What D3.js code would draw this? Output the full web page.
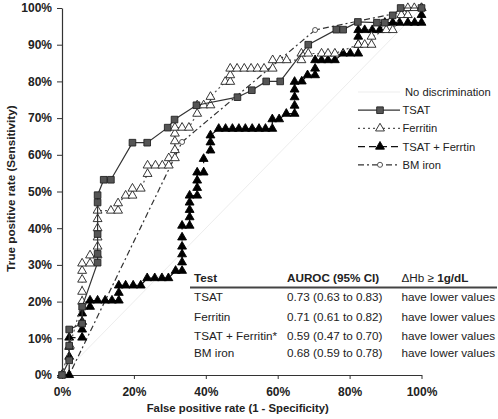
<!DOCTYPE html>
<html>
<head>
<meta charset="utf-8">
<script src="https://cdn.jsdelivr.net/npm/d3@7"></script>
<style>
	body { margin: 0; background: #fff; }
	text { font-family: Arial, "Liberation Sans", sans-serif; fill: #222; }
</style>
</head>
<body>
<svg id="chart" width="498" height="419"></svg>
<script>
// ROC points as [false positive %, true positive %]
var tsat = [[0,0],[2,4],[2,8],[2,12.4],[5.6,14],[5.6,18.6],[9.9,30.6],[9.9,33],[9.9,38.4],[9.9,47],[9.9,49],
	[11.6,53.2],[13.6,53.2],[19.6,63.3],[23.7,63.3],[29.4,67.4],[31.3,69.6],[37.4,73.5],[48.8,75.7],
	[52.8,77.6],[56.8,80],[60.7,80],[68.5,90],[76.3,94.1],[78.2,94.1],[82.3,96.2],[87.6,96],[89.8,96],
	[92,98],[94.2,100],[100,100]];

var ferritin = [[0,0],[2.2,8],[5.6,20],[5.6,22.7],[5.6,26],[5.6,28.4],[5.6,30.4],[7.8,30.4],[7.8,32.6],
	[9.9,32.6],[9.9,35],[9.9,37.5],[9.9,40],[9.9,42.5],[9.9,44.8],[13.6,44.8],[15.6,44.8],[15.6,46.8],
	[17.7,48.9],[19.6,48.9],[19.6,50.8],[21.9,50.8],[23.8,54.8],[23.8,57.1],[26,57.1],[27.9,57.1],
	[29.7,57.1],[29.7,59.1],[31.4,59.1],[31.4,61.3],[31.4,63.7],[31.4,65.8],[31.4,67.4],[33.4,67.4],
	[35.3,67.4],[37.6,71.2],[37.6,73.5],[39.4,73.5],[41.3,73.5],[41.3,75.8],[45.4,79.9],[46.8,79.9],
	[46.8,81.7],[46.8,83.5],[48.7,83.5],[50.7,83.5],[52.6,83.5],[54.4,83.5],[56.2,83.5],[58.6,83.5],
	[58.6,85.8],[60.7,85.8],[62.5,85.8],[66.6,85.8],[66.6,87.6],[68.5,87.6],[72.2,87.6],[74,87.6],
	[75.9,87.6],[82.4,90],[84.2,90],[86.1,90],[86.1,92.2],[90.2,94],[92,94],[94.4,98.1],[96.2,98.1],
	[96.2,100],[98,100],[100,100]];

var tsatFerritin = [[0,0],[2,0],[2,5],[2,7.7],[2,10.2],[5.6,10.2],[5.6,12.4],[5.6,14.5],[5.6,16.8],
	[7.8,18.6],[7.8,20.3],[9.9,20.3],[12,20.3],[13.9,20.3],[15.8,20.3],[15.8,22.4],[15.8,24.4],
	[17.7,24.4],[19.8,24.4],[21.9,24.4],[23.7,26.4],[25.8,26.4],[27.8,26.4],[29.6,26.4],[31.6,28.4],
	[33.4,28.4],[33.4,30.7],[33.4,32.9],[33.4,35],[33.4,37.5],[33.4,40.7],[35.5,40.7],[35.5,43],
	[35.5,45],[35.5,47],[35.5,48.9],[37.6,48.9],[37.6,51],[37.6,53],[37.6,55.2],[39.4,55.2],
	[39.4,58.9],[41.3,61.2],[41.3,63.4],[41.3,65.3],[43.6,67.1],[45.5,67.1],[47.4,67.1],[49.2,67.1],
	[51,67.1],[52.9,67.1],[54.8,67.1],[56.6,67.1],[58.5,67.1],[58.5,69.7],[60.4,69.7],[62.4,71.2],
	[64.7,71.2],[64.7,73.4],[64.7,75.7],[64.7,77.8],[64.7,79.9],[66.7,80],[68.3,81.7],[70.4,81.7],
	[70.4,83.5],[70.4,85.8],[72.2,85.8],[74,85.8],[75.9,85.8],[78.2,87.6],[80.2,87.6],[82.4,87.6],
	[82.4,90],[82.4,92.2],[82.4,94],[84.2,94],[86.3,94],[88.4,94],[89.8,96],[92,96],[93.9,96],
	[96.2,96],[98.1,96],[100,96],[100,98.1],[100,100]];

var bmIron = [[0,0],[2,0],[33.4,63.5],[70.4,94],[90.2,98],[100,100]];
var noDiscrimination = [[0,0],[100,100]];

var xTicks = [0, 20, 40, 60, 80, 100];
var yTicks = [0, 10, 20, 30, 40, 50, 60, 70, 80, 90, 100];

var tableHeader = ["Test", "AUROC (95% CI)"];
var tableTests = ["TSAT", "Ferritin", "TSAT + Ferritin*", "BM iron"];
var tableAuroc = ["0.73 (0.63 to 0.83)", "0.71 (0.61 to 0.82)", "0.59 (0.47 to 0.70)", "0.68 (0.59 to 0.78)"];
var tableNote = ["have lower values", "have lower values", "have lower values", "have lower values"];

var svg = d3.select("#chart");

var x = d3.scaleLinear().domain([0, 100]).range([62, 421.5]);
var y = d3.scaleLinear().domain([0, 100]).range([375, 8]);

var pct = function(d) { return d + "%"; };

var tri = d3.symbol().type(d3.symbolTriangle).size(34);
var sq = d3.symbol().type(d3.symbolSquare).size(44);
var circ = d3.symbol().type(d3.symbolCircle).size(20);

// drawing order matters: later series sit on top
var series = [
	{ name: "No discrimination", values: noDiscrimination, stroke: "#ededed", width: 1, dash: null, marker: null },
	{ name: "BM iron", values: bmIron, stroke: "#333", width: 1.2, dash: "6,3,2,3",
		marker: { path: circ, fill: "#fff", stroke: "#444" }, markerAt: [2, 3] },
	{ name: "TSAT + Ferrtin", values: tsatFerritin, stroke: "#111", width: 1.2, dash: "7,4",
		marker: { path: tri, fill: "#000", stroke: "#000" } },
	{ name: "Ferritin", values: ferritin, stroke: "#555", width: 1.2, dash: "2,3",
		marker: { path: tri, fill: "#fff", stroke: "#222" } },
	{ name: "TSAT", values: tsat, stroke: "#333", width: 1.2, dash: null,
		marker: { path: sq, fill: "#555", stroke: "#222" } }
];

var line = d3.line()
	.x(function(d) { return x(d[0]); })
	.y(function(d) { return y(d[1]); });

// axes
var xAxis = svg.append("g")
	.attr("transform", "translate(0," + y(0) + ")")
	.call(d3.axisBottom(x).tickValues(xTicks).tickFormat(pct).tickSize(4).tickSizeOuter(0).tickPadding(8));

var yAxis = svg.append("g")
	.attr("transform", "translate(" + x(0) + ",0)")
	.call(d3.axisLeft(y).tickValues(yTicks).tickFormat(pct).tickSize(5).tickSizeOuter(0).tickPadding(5));

[xAxis, yAxis].forEach(function(g) {
	g.selectAll("path.domain").attr("stroke", "#333").attr("stroke-width", 1.2);
	g.selectAll(".tick line").attr("stroke", "#333");
	g.selectAll(".tick text")
		.attr("fill", "#222")
		.style("font-size", "12px")
		.style("font-weight", "bold")
		.style("font-family", "Arial, 'Liberation Sans', sans-serif");
});

svg.append("text")
	.attr("x", x(50) - 4)
	.attr("y", 412)
	.attr("text-anchor", "middle")
	.style("font-size", "11.3px")
	.style("font-weight", "bold")
	.text("False positive rate (1 - Specificity)");

svg.append("text")
	.attr("transform", "translate(14.5," + (y(50) - 3) + ") rotate(-90)")
	.attr("text-anchor", "middle")
	.style("font-size", "11.7px")
	.style("font-weight", "bold")
	.text("True positive rate (Sensitivity)");

// curves
var curves = svg.append("g").attr("class", "curves");

series.forEach(function(s) {
	var g = curves.append("g");
	g.append("path")
		.datum(s.values)
		.attr("d", line)
		.attr("fill", "none")
		.attr("stroke", s.stroke)
		.attr("stroke-width", s.width)
		.attr("stroke-dasharray", s.dash);

	if (!s.marker) return;
	var pts = s.markerAt ? s.markerAt.map(function(i) { return s.values[i]; }) : s.values;
	g.selectAll("path.pt")
		.data(pts)
		.enter().append("path")
		.attr("class", "pt")
		.attr("d", s.marker.path)
		.attr("transform", function(d) { return "translate(" + x(d[0]) + "," + y(d[1]) + ")"; })
		.attr("fill", s.marker.fill)
		.attr("stroke", s.marker.stroke)
		.attr("stroke-width", 0.9);
});

// legend
var legendOrder = ["No discrimination", "TSAT", "Ferritin", "TSAT + Ferrtin", "BM iron"];
var legend = svg.append("g").attr("class", "legend");

legendOrder.forEach(function(name, i) {
	var s = series.filter(function(d) { return d.name === name; })[0];
	var ly = 92 + i * 18.2;
	var row = legend.append("g").attr("transform", "translate(0," + ly + ")");
	row.append("line")
		.attr("x1", 358).attr("x2", 400)
		.attr("stroke", s.stroke)
		.attr("stroke-width", s.width)
		.attr("stroke-dasharray", s.dash);
	if (s.marker) {
		row.append("path")
			.attr("d", s.marker.path)
			.attr("transform", "translate(380,0)")
			.attr("fill", s.marker.fill)
			.attr("stroke", s.marker.stroke)
			.attr("stroke-width", 0.9);
	}
	row.append("text")
		.attr("x", name === "No discrimination" ? 405 : 402.5)
		.attr("dy", "0.35em")
		.style("font-size", "11.2px")
		.text(name);
});

// AUROC table
var colX = [194, 287, 401.5];
var rowY = [297.3, 316.7, 336, 352.7];
var table = svg.append("g").attr("class", "table").style("font-size", "11.7px");

table.selectAll("text.head")
	.data(tableHeader)
	.enter().append("text")
	.attr("class", "head")
	.attr("x", function(d, i) { return colX[i]; })
	.attr("y", 278.3)
	.attr("dy", "0.35em")
	.style("font-weight", "bold")
	.text(function(d) { return d; });

var hb = table.append("text")
	.attr("x", colX[2])
	.attr("y", 278.3)
	.attr("dy", "0.35em");
hb.append("tspan").text("\u0394Hb \u2265 ");
hb.append("tspan").style("font-weight", "bold").text("1g/dL");

table.append("line")
	.attr("x1", 190).attr("x2", 497)
	.attr("y1", 287.5).attr("y2", 287.5)
	.attr("stroke", "#444")
	.attr("stroke-width", 2);

[tableTests, tableAuroc, tableNote].forEach(function(col, c) {
	table.selectAll("text.c" + c)
		.data(col)
		.enter().append("text")
		.attr("class", "c" + c)
		.attr("x", colX[c])
		.attr("y", function(d, i) { return rowY[i]; })
		.attr("dy", "0.35em")
		.text(function(d) { return d; });
});
</script>
</body>
</html>
